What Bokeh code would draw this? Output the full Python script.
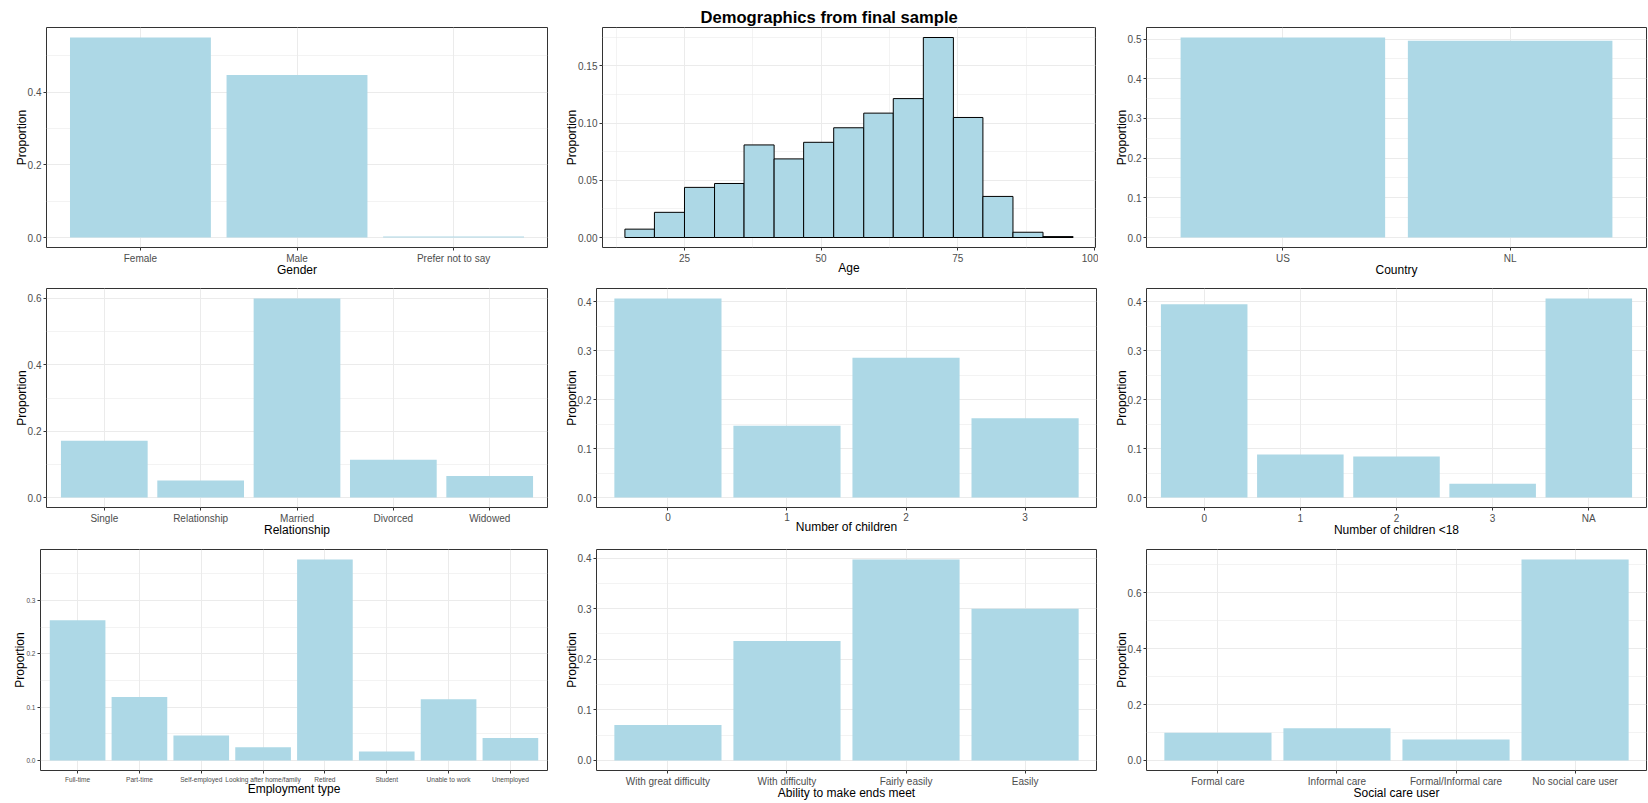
from bokeh.plotting import figure
from bokeh.layouts import column, row
from bokeh.models import FixedTicker, NumeralTickFormatter, Range1d
from bokeh.embed import file_html
from bokeh.resources import INLINE

FONT = "Liberation Sans"
BAR = "#ADD8E6"
GRID = "#EBEBEB"

# ---------------- data ----------------
gender_cats = ["Female", "Male", "Prefer not to say"]
gender_vals = [0.550, 0.447, 0.003]

age_edges = [14.1, 19.5, 25.0, 30.5, 35.9, 41.4, 46.8, 52.3, 57.8, 63.2,
             68.7, 74.2, 79.6, 85.1, 90.6, 96.1]
age_props = [0.0073, 0.0220, 0.0438, 0.0472, 0.0809, 0.0687, 0.0832, 0.0959,
             0.1087, 0.1214, 0.1748, 0.1049, 0.0359, 0.0046, 0.0008]
age_ticks = [25, 50, 75, 100]

country_cats = ["US", "NL"]
country_vals = [0.504, 0.496]

rel_cats = ["Single", "Relationship", "Married", "Divorced", "Widowed"]
rel_vals = [0.171, 0.051, 0.600, 0.114, 0.065]

child_cats = ["0", "1", "2", "3"]
child_vals = [0.407, 0.147, 0.286, 0.162]

child18_cats = ["0", "1", "2", "3", "NA"]
child18_vals = [0.395, 0.088, 0.084, 0.028, 0.407]

emp_cats = ["Full-time", "Part-time", "Self-employed", "Looking after home/family",
            "Retired", "Student", "Unable to work", "Unemployed"]
emp_vals = [0.263, 0.119, 0.047, 0.025, 0.377, 0.017, 0.115, 0.042]

ends_cats = ["With great difficulty", "With difficulty", "Fairly easily", "Easily"]
ends_vals = [0.070, 0.236, 0.397, 0.300]

care_cats = ["Formal care", "Informal care", "Formal/Informal care", "No social care user"]
care_vals = [0.099, 0.115, 0.075, 0.719]

TITLE = "Demographics from final sample"


# ---------------- helpers ----------------
def y_ticks(lo, hi, step):
    major, minor = [], []
    k = 0
    while k * step <= hi + 1e-9:
        major.append(round(k * step, 6))
        k += 1
    k = -1
    while True:
        v = round(k * step + step / 2, 6)
        if v > hi:
            break
        if v >= lo:
            minor.append(v)
        k += 1
    return major, minor


def make_fig(width, height, bl, br, bt, bb, xr, yr, xlab_standoff=-4):
    p = figure(width=width, height=height, x_range=xr, y_range=yr,
               output_backend="svg", toolbar_location=None,
               min_border_left=bl, min_border_right=br,
               min_border_top=bt, min_border_bottom=bb)
    p.outline_line_color = "#333333"
    p.outline_line_width = 1
    p.background_fill_color = "white"
    p.border_fill_color = "white"
    for ax in (p.xaxis[0], p.yaxis[0]):
        ax.axis_line_color = None
        ax.major_tick_line_color = "#333333"
        ax.major_tick_out = 3
        ax.major_tick_in = 0
        ax.minor_tick_line_color = None
        ax.major_label_text_font = FONT
        ax.major_label_text_font_size = "10px"
        ax.major_label_text_color = "#4D4D4D"
        ax.major_label_standoff = 2
        ax.axis_label_text_font = FONT
        ax.axis_label_text_font_size = "12px"
        ax.axis_label_text_font_style = "normal"
        ax.axis_label_text_color = "black"
    p.xaxis[0].axis_label_standoff = xlab_standoff
    p.yaxis[0].axis_label_standoff = -4
    p.yaxis[0].major_label_standoff = 1
    p.xgrid.grid_line_color = GRID
    p.ygrid.grid_line_color = GRID
    p.xgrid.grid_line_width = 1
    p.ygrid.grid_line_width = 1
    p.ygrid.minor_grid_line_color = GRID
    p.ygrid.minor_grid_line_width = 0.6
    return p


def bar_panel(cats, vals, xlabel, ystep, width, height, bl, br, bt, bb,
              xtick_size="10px", ytick_size="10px", xlab_standoff=-4):
    n = len(cats)
    xs = list(range(1, n + 1))
    vmax = max(vals)
    lo, hi = -0.05 * vmax, 1.05 * vmax
    p = make_fig(width, height, bl, br, bt, bb,
                 Range1d(0.4, n + 0.6), Range1d(lo, hi), xlab_standoff)
    p.vbar(x=xs, top=vals, bottom=0, width=0.9, fill_color=BAR, line_color=None)
    p.xaxis.ticker = FixedTicker(ticks=xs)
    p.xaxis.major_label_overrides = {x: c for x, c in zip(xs, cats)}
    p.xaxis.axis_label = xlabel
    p.xaxis.major_label_text_font_size = xtick_size
    major, minor = y_ticks(lo, hi, ystep)
    p.yaxis.ticker = FixedTicker(ticks=major, minor_ticks=minor)
    p.yaxis.formatter = NumeralTickFormatter(format="0.0")
    p.yaxis.axis_label = "Proportion"
    p.yaxis.major_label_text_font_size = ytick_size
    return p


# layout sizes
C1, C2, C3 = 549, 549, 550
R1, R2, R3 = 280, 260, 262

# ---------------- row 1 ----------------
p_gender = bar_panel(gender_cats, gender_vals, "Gender", 0.2, C1, R1, 46, 2, 27, 33)

amax = max(age_props)
span = age_edges[-1] - age_edges[0]
p_age = make_fig(C2, R1, 53, 3, 27, 33,
                 Range1d(age_edges[0] - 0.05 * span, age_edges[-1] + 0.05 * span),
                 Range1d(-0.05 * amax, 1.05 * amax))
p_age.quad(left=age_edges[:-1], right=age_edges[1:], bottom=0, top=age_props,
           fill_color=BAR, line_color="black", line_width=1)
p_age.xaxis.ticker = FixedTicker(ticks=age_ticks,
                                 minor_ticks=[t - 12.5 for t in age_ticks])
p_age.xgrid.minor_grid_line_color = GRID
p_age.xgrid.minor_grid_line_width = 0.6
p_age.xaxis.axis_label = "Age"
amaj, amin = y_ticks(-0.05 * amax, 1.05 * amax, 0.05)
p_age.yaxis.ticker = FixedTicker(ticks=amaj, minor_ticks=amin)
p_age.yaxis.formatter = NumeralTickFormatter(format="0.00")
p_age.yaxis.axis_label = "Proportion"
p_age.title.text = TITLE
p_age.title.align = "left"
p_age.title.offset = 98
p_age.title.standoff = 0
p_age.title.vertical_align = "middle"
p_age.title.text_font = FONT
p_age.title.text_font_size = "16.6px"
p_age.title.text_font_style = "bold"
p_age.title.text_color = "black"

p_country = bar_panel(country_cats, country_vals, "Country", 0.1, C3, R1, 48, 2, 27, 33)

# ---------------- row 2 ----------------
p_rel = bar_panel(rel_cats, rel_vals, "Relationship", 0.2, C1, R2, 46, 2, 8, 33)
p_child = bar_panel(child_cats, child_vals, "Number of children", 0.1, C2, R2, 47, 2, 8, 33)
p_child18 = bar_panel(child18_cats, child18_vals, "Number of children <18", 0.1, C3, R2, 48, 2, 8, 33)

# ---------------- row 3 ----------------
p_emp = bar_panel(emp_cats, emp_vals, "Employment type", 0.1, C1, R3, 40, 2, 9, 26,
                  xtick_size="6.6px", ytick_size="6.5px", xlab_standoff=-4)
p_ends = bar_panel(ends_cats, ends_vals, "Ability to make ends meet", 0.1, C2, R3, 47, 2, 9, 31)
p_care = bar_panel(care_cats, care_vals, "Social care user", 0.2, C3, R3, 48, 2, 9, 31)

layout = column(
    row(p_gender, p_age, p_country),
    row(p_rel, p_child, p_child18),
    row(p_emp, p_ends, p_care),
)

open("out.html", "w").write(file_html(layout, INLINE))
